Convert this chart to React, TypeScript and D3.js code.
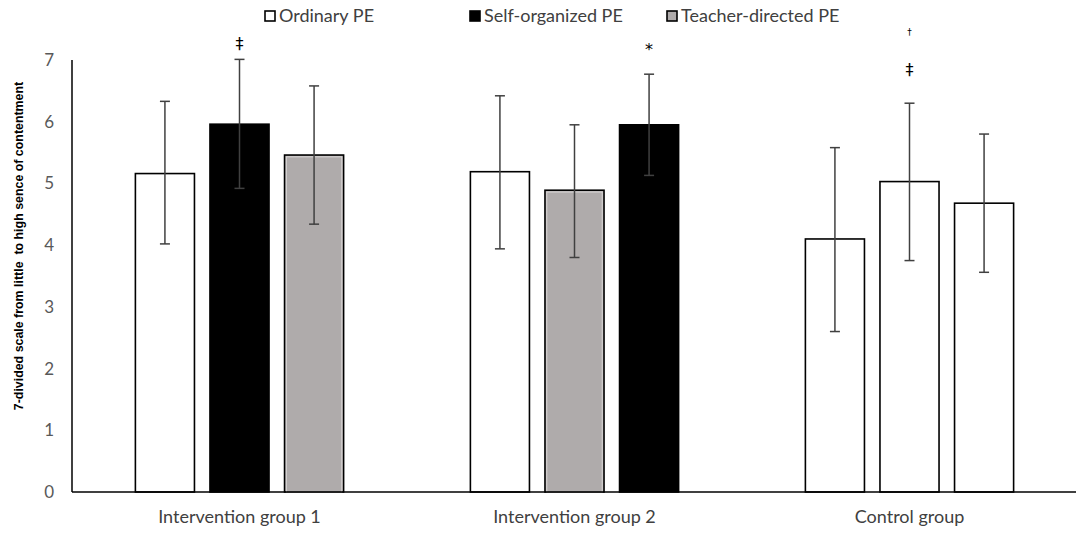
import React from 'react';
import * as d3 from 'd3';

const categories = ['Intervention group 1', 'Intervention group 2', 'Control group'];
const seriesNames = ['Ordinary PE', 'Self-organized PE', 'Teacher-directed PE'];
// which PE type each bar in a group shows (index into seriesNames)
const barTypes = [
  [0, 1, 2],
  [0, 2, 1],
  [0, 0, 0],
];
const means = [
  [5.16, 5.96, 5.46],
  [5.19, 4.89, 5.95],
  [4.1, 5.03, 4.68],
];
const upper = [
  [6.33, 7.01, 6.58],
  [6.42, 5.95, 6.77],
  [5.58, 6.3, 5.8],
];
const lower = [
  [4.02, 4.92, 4.34],
  [3.94, 3.8, 5.13],
  [2.6, 3.75, 3.56],
];
// significance marks: [group, bar, symbol, level on the y scale]
const marks: [number, number, string, number][] = [
  [0, 1, '‡', 7.27],
  [1, 2, '*', 7.22],
  [2, 1, '‡', 6.84],
  [2, 1, '†', 7.46],
];
const yTicks = [0, 1, 2, 3, 4, 5, 6, 7];

const fills = ['#ffffff', '#000000', '#afabab'];

const W = 1084;
const H = 534;
const margin = { top: 60, right: 7, bottom: 42, left: 72 };

export default function App() {
  const x0 = d3
    .scaleBand<string>()
    .domain(categories)
    .range([margin.left, W - margin.right]);
  const x1 = d3
    .scaleBand<number>()
    .domain([0, 1, 2])
    .range([0, x0.bandwidth()])
    .paddingInner(0.208)
    .paddingOuter(0.85);
  const y = d3.scaleLinear().domain([0, 7]).range([H - margin.bottom, margin.top]);

  const bw = x1.bandwidth();
  const labelFont = 'Lato, "Open Sans", sans-serif';
  const legendX = [265, 470, 667];

  return (
    <svg width={W} height={H} style={{ display: 'block', margin: -8 }}>
      <rect width={W} height={H} fill="#fff" />

      {/* legend */}
      {seriesNames.map((name, i) => (
        <g key={name}>
          <rect
            x={legendX[i]}
            y={11}
            width={10}
            height={10}
            fill={fills[i]}
            stroke="#000"
            strokeWidth={1.6}
          />
          <text x={legendX[i] + 14} y={22} fontFamily={labelFont} fontSize={18} fill="#404040">
            {name}
          </text>
        </g>
      ))}

      {/* y tick labels */}
      {yTicks.map((t) => (
        <text
          key={t}
          x={54}
          y={y(t)}
          dy="0.35em"
          textAnchor="end"
          fontFamily={labelFont}
          fontSize={17}
          fill="#595959"
        >
          {t}
        </text>
      ))}

      {/* y axis title */}
      <text
        transform="translate(23,246) rotate(-90)"
        textAnchor="middle"
        fontFamily="'Liberation Sans', Arial, sans-serif"
        fontWeight="bold"
        fontSize={12.4}
        fill="#000"
        style={{ whiteSpace: 'pre' }}
      >
        {'7-divided scale from little  to high sence of contentment'}
      </text>

      {/* bars */}
      {categories.map((c, gi) =>
        means[gi].map((m, bi) => {
          const t = barTypes[gi][bi];
          const bx = (x0(c) ?? 0) + (x1(bi) ?? 0);
          return (
            <g key={`${c}-${bi}`}>
              <rect
                x={bx}
                y={y(m)}
                width={bw}
                height={y(0) - y(m)}
                fill={fills[t]}
                stroke="#000"
                strokeWidth={1.6}
              />
              {t === 2 && (
                <rect
                  x={bx + 1.8}
                  y={y(m) + 1.8}
                  width={bw - 3.6}
                  height={y(0) - y(m) - 1.8}
                  fill="none"
                  stroke="#d9d6d6"
                  strokeWidth={1}
                />
              )}
            </g>
          );
        })
      )}

      {/* error bars */}
      {categories.map((c, gi) =>
        means[gi].map((m, bi) => {
          const cx = (x0(c) ?? 0) + (x1(bi) ?? 0) + bw / 2;
          const yt = y(upper[gi][bi]);
          const yb = y(lower[gi][bi]);
          return (
            <g key={`e-${c}-${bi}`} stroke="#404040" strokeWidth={1.5}>
              <line x1={cx} x2={cx} y1={yt} y2={yb} />
              <line x1={cx - 5} x2={cx + 5} y1={yt} y2={yt} />
              <line x1={cx - 5} x2={cx + 5} y1={yb} y2={yb} />
            </g>
          );
        })
      )}

      {/* significance marks */}
      {marks.map(([gi, bi, s, lvl], i) => {
        const cx = (x0(categories[gi]) ?? 0) + (x1(bi) ?? 0) + bw / 2;
        return (
          <text
            key={i}
            x={cx}
            y={y(lvl)}
            dy={s === '*' ? '0.55em' : '0.35em'}
            textAnchor="middle"
            fontFamily="'DejaVu Sans', sans-serif"
            fontSize={s === '†' ? 9 : 16}
            fill="#000"
          >
            {s}
          </text>
        );
      })}

      {/* axes lines */}
      <line x1={margin.left} x2={margin.left} y1={y(7)} y2={y(0)} stroke="#000" strokeWidth={1.5} />
      <line x1={margin.left} x2={W - margin.right} y1={y(0)} y2={y(0)} stroke="#000" strokeWidth={1.5} />

      {/* category labels */}
      {categories.map((c) => (
        <text
          key={c}
          x={(x0(c) ?? 0) + x0.bandwidth() / 2}
          y={523}
          textAnchor="middle"
          fontFamily={labelFont}
          fontSize={18}
          fill="#404040"
        >
          {c}
        </text>
      ))}
    </svg>
  );
}
